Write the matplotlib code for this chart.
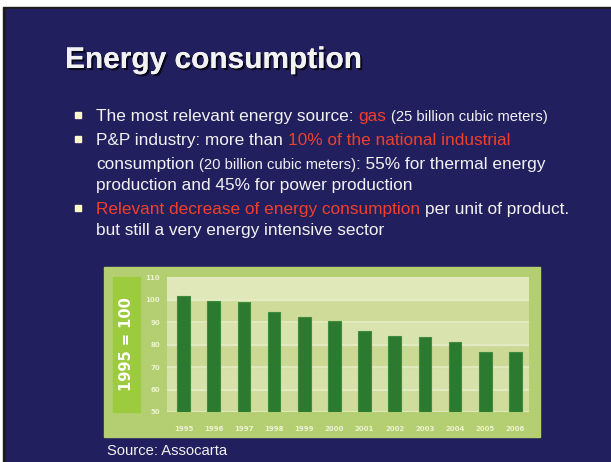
import matplotlib
matplotlib.use('Agg')
import matplotlib.pyplot as plt
import matplotlib.patches as mpatches
import matplotlib.patheffects as pe

# chart data (index, 1995 = 100)
years = ['1995', '1996', '1997', '1998', '1999', '2000',
         '2001', '2002', '2003', '2004', '2005', '2006']
index_values = [101.6, 99.6, 99.1, 94.5, 92.1, 90.6, 86.0, 83.8, 83.3, 81.0, 76.9, 76.9]
yticks = [50, 60, 70, 80, 90, 100, 110]

NAVY = '#221f5e'
WHITE = '#f2f2f2'
RED = '#f0402a'
FONT = 'Liberation Sans'

W, H = 611, 462
fig = plt.figure(figsize=(W / 100, H / 100), dpi=100)

# full-figure axes in pixel coordinates for the slide
bg = fig.add_axes([0, 0, 1, 1])
bg.set_xlim(0, W)
bg.set_ylim(H, 0)
bg.axis('off')
bg.add_patch(mpatches.Rectangle((0, 0), W, H, color='white', zorder=0))
bg.add_patch(mpatches.Rectangle((3, 7), W, H, color='#1c1c1c', zorder=0))
bg.add_patch(mpatches.Rectangle((6, 9), W, H, color=NAVY, zorder=0))

# title
bg.text(65, 68, 'Energy consumption', fontsize=21.5, fontweight='bold',
        family=FONT, color=WHITE,
        path_effects=[pe.withSimplePatchShadow(offset=(1.5, -1.5), shadow_rgbFace='black', alpha=0.7),
                      pe.Normal()])

renderer = fig.canvas.get_renderer()
BASE = 12.4
SMALL = 10.6


def width_of(s, size):
    t = bg.text(0, 0, s, fontsize=size, family=FONT)
    w = t.get_window_extent(renderer).width
    t.remove()
    return w


def run(x, y, parts):
    # parts: (text, colour, size); None means a space
    for p in parts:
        if p is None:
            x += width_of('a a', BASE) - width_of('aa', BASE)
            continue
        s, c, size = p
        t = bg.text(x, y, s, fontsize=size, family=FONT, color=c)
        x += t.get_window_extent(renderer).width


lines = [
    (121, True, [('The most relevant energy source:', WHITE, BASE), None, ('gas', RED, BASE), None,
                 ('(25 billion cubic meters)', WHITE, SMALL)]),
    (145, True, [('P&P industry: more than', WHITE, BASE), None,
                 ('10% of the national industrial', RED, BASE)]),
    (169, False, [('consumption', WHITE, BASE), None, ('(20 billion cubic meters)', WHITE, SMALL),
                  (': 55% for thermal energy', WHITE, BASE)]),
    (190, False, [('production and 45% for power production', WHITE, BASE)]),
    (214, True, [('Relevant decrease of energy consumption', RED, BASE), None,
                 ('per unit of product.', WHITE, BASE)]),
    (235, False, [('but still a very energy intensive sector', WHITE, BASE)]),
]
for y, bullet, parts in lines:
    if bullet:
        bg.add_patch(mpatches.Rectangle((75, y - 9), 6, 6, color='#fbfbc8'))
    run(96, y, parts)

# chart frame
bg.add_patch(mpatches.Rectangle((104, 267), 436, 170, color='#b3cf72', zorder=1))
bg.add_patch(mpatches.Rectangle((113, 277), 27, 135, color='#9dcb3e', zorder=2))
bg.text(126.5, 344.5, '1995 = 100', rotation=90, ha='center', va='center',
        fontsize=10.5, fontweight='bold', family='DejaVu Sans', color='white', zorder=3)

bg.text(107, 455, 'Source: Assocarta', fontsize=10.6, family=FONT, color=WHITE)

# bar chart
left, right, top, bottom = 167, 529, 277.2, 412
ax = fig.add_axes([left / W, 1 - bottom / H, (right - left) / W, (bottom - top) / H])
ax.set_zorder(2)
x = list(range(len(years)))
bands = ['#cfdc9c', '#d7e2aa', '#cbd994', '#d9e3ad', '#cfdc99', '#e0e7b9']
for i, c in enumerate(bands):
    ax.axhspan(yticks[i], yticks[i + 1], color=c, zorder=0)
for v in yticks:
    ax.axhline(v, color='#e6ecc4', lw=1.2, zorder=0.5)
ax.bar(x, [v - 50 for v in index_values], bottom=50, width=0.42,
       color='#2c7a30', edgecolor='#3f8c3c', lw=0.8, zorder=2)
ax.set_xlim(-0.55, 11.45)
ax.set_ylim(50, 110)
ax.set_yticks(yticks)
ax.set_yticklabels([str(v) for v in yticks], fontsize=5, color='#eef2d2', fontweight='bold')
ax.set_xticks(x)
ax.set_xticklabels(years, fontsize=5, color='#eef2d2', fontweight='bold')
ax.tick_params(axis='y', length=0, pad=5)
ax.tick_params(axis='x', length=0, pad=10)
for s in ax.spines.values():
    s.set_visible(False)

fig.savefig('out.png', dpi=100)
